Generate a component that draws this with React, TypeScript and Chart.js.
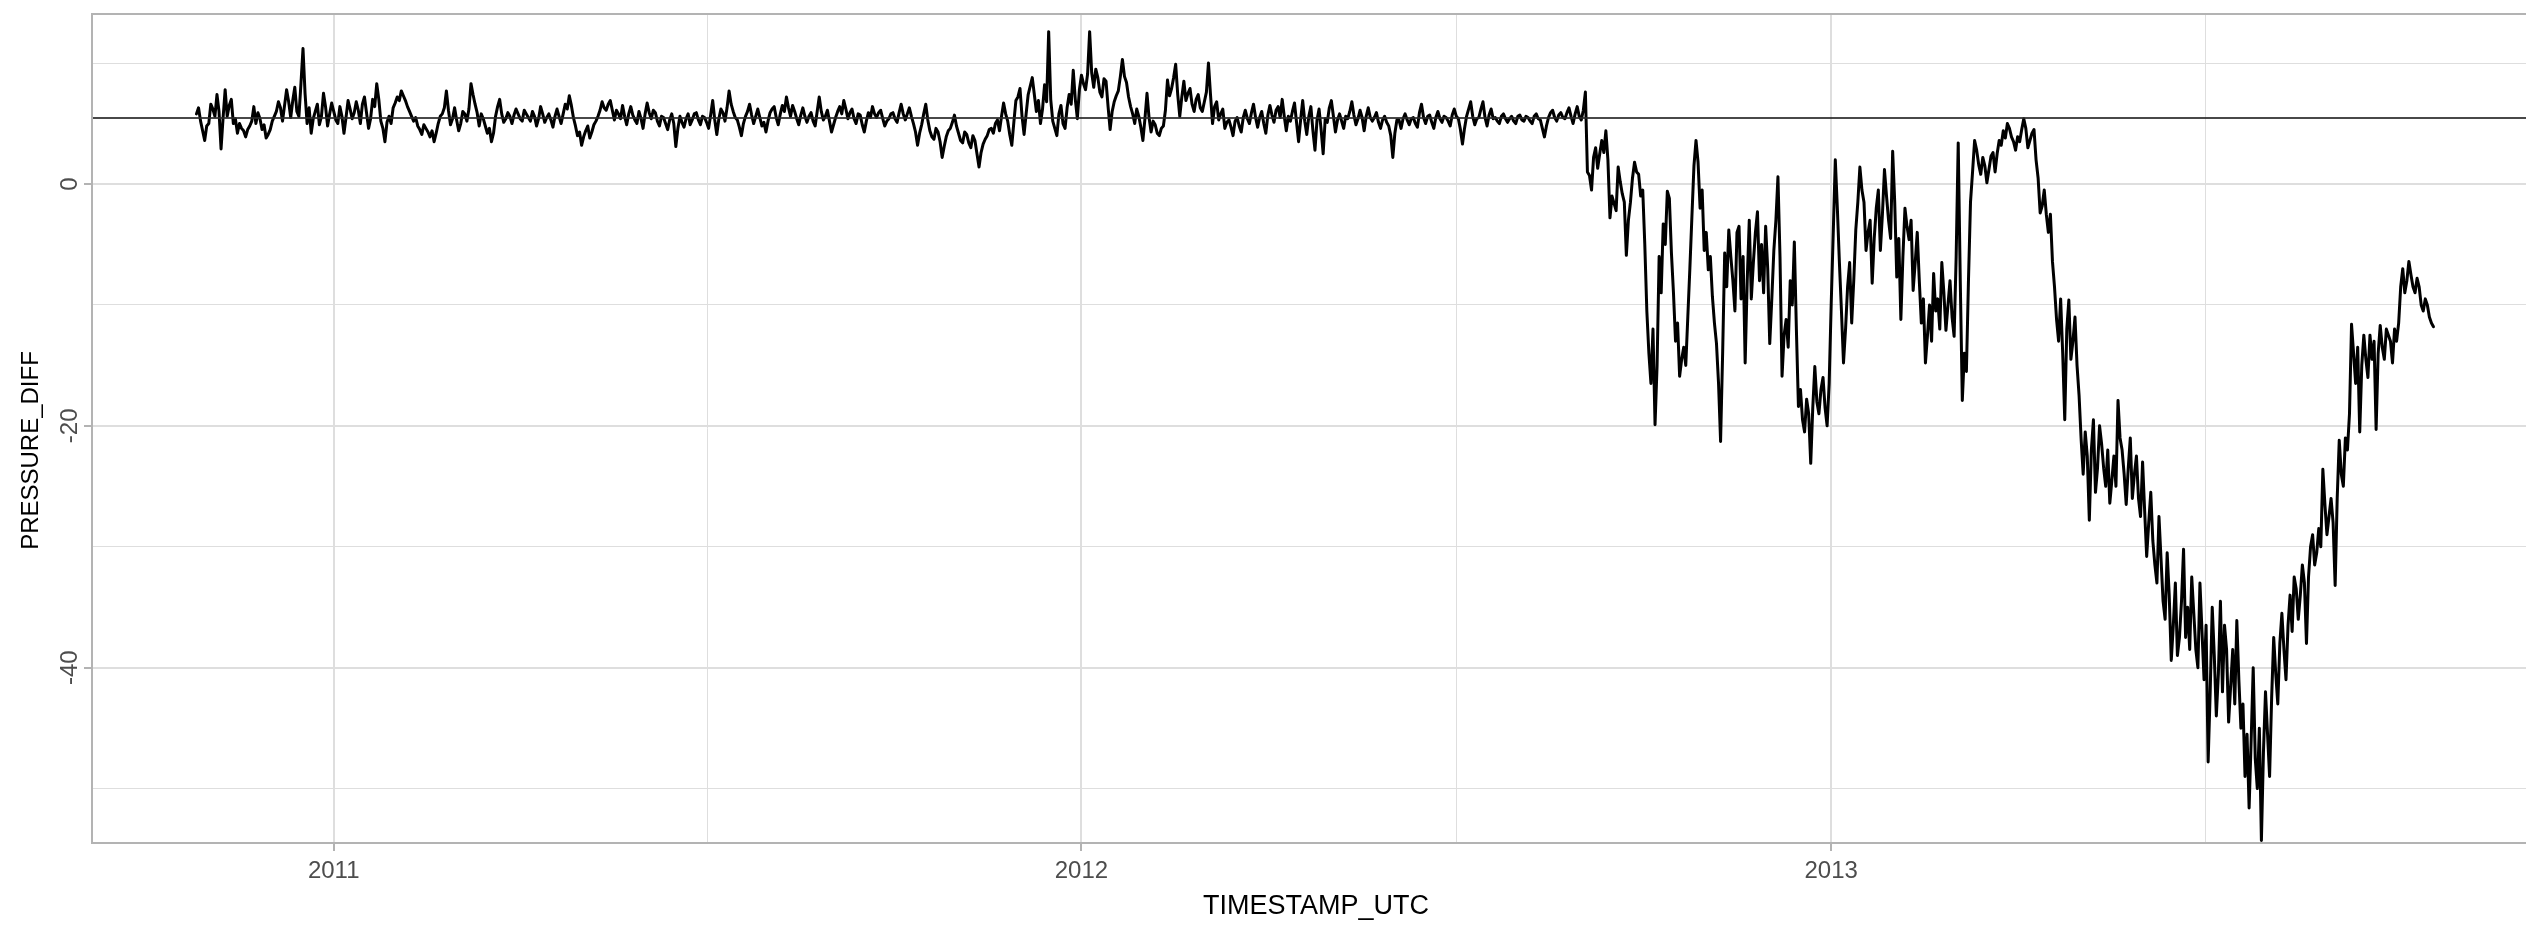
import React, { useEffect, useRef } from 'react';
import { Chart, registerables } from 'chart.js';

Chart.register(...registerables);

// ---- data: daily readings starting at seriesStart ----
// "...Even" arrays hold the readings on even days (0, 2, 4, ...),
// "...Odd" arrays hold the readings on the odd days in between.
const seriesStart = '2010-10-26';
const stepDays = 1;

const values2010to2011Even = [
  5.8, 5.2, 3.6, 5.0, 6.2, 7.4, 2.9, 7.8, 6.5, 5.0,
  4.2, 4.6, 3.9, 4.8, 6.4, 5.9, 4.5, 3.8, 4.5, 5.6,
  6.8, 5.2, 7.8, 5.5, 8.0, 5.6, 11.2, 5.0, 4.2, 6.0,
  4.9, 7.5, 4.8, 6.7, 5.3, 6.4, 4.2, 6.9, 5.4, 6.8,
  5.0, 7.2, 4.6, 7.0, 8.3, 5.2, 3.5, 5.6, 6.3, 7.2,
  7.7, 6.9, 6.0, 5.2, 4.8, 4.1, 4.6, 3.9, 3.5, 5.0,
  5.8, 7.7, 4.9, 6.3, 4.4, 6.0, 5.2, 8.3, 6.6, 4.8,
  5.4, 4.2, 3.5, 5.6, 7.0, 5.1, 5.9, 5.0, 6.2, 5.4,
  6.1, 5.5, 6.0, 4.8, 6.4, 5.1, 5.8, 4.7, 6.2, 5.0,
  6.6, 7.3, 5.5, 4.0, 3.2, 4.4, 3.8, 4.9, 5.6, 6.8,
  6.1, 6.9, 5.3, 5.8,
];
const values2010to2011Odd = [
  6.3, 4.4, 4.8, 6.6, 5.6, 6.0, 5.5, 5.6, 7.0, 5.4,
  5.0, 4.4, 4.5, 5.2, 5.0, 5.4, 4.9, 4.1, 5.2, 6.0,
  6.3, 6.5, 6.8, 6.9, 6.0, 8.3, 7.5, 6.3, 5.4, 6.6,
  5.6, 6.4, 5.8, 6.0, 5.0, 5.6, 5.5, 6.2, 5.9, 6.1,
  6.6, 5.9, 5.4, 6.4, 7.0, 4.6, 5.1, 5.0, 6.7, 6.9,
  7.3, 6.4, 5.6, 5.5, 4.5, 4.9, 4.3, 4.4, 4.2, 5.6,
  6.3, 6.1, 5.4, 5.3, 5.0, 5.8, 6.2, 7.4, 5.9, 5.8,
  4.8, 4.6, 4.2, 6.4, 5.8, 5.4, 5.6, 5.7, 5.8, 5.2,
  5.8, 5.2, 5.6, 5.4, 5.8, 5.5, 5.3, 5.6, 5.6, 5.8,
  6.2, 6.5, 4.8, 4.3, 3.9, 4.8, 4.3, 5.2, 6.1, 6.3,
  6.6, 6.1, 6.1, 5.4,
];

const values2011H2Even = [
  6.5, 4.9, 6.4, 5.3, 6.0, 4.6, 6.7, 5.4, 5.9, 4.8,
  5.5, 4.5, 5.8, 3.1, 5.6, 4.7, 5.8, 5.3, 5.9, 4.9,
  5.5, 4.6, 6.9, 4.1, 6.2, 5.2, 7.7, 6.0, 5.3, 4.0,
  5.6, 6.6, 5.0, 6.2, 4.8, 4.3, 5.9, 6.4, 4.9, 6.5,
  7.2, 5.6, 6.0, 4.9, 6.3, 5.1, 5.9, 4.8, 7.2, 5.3,
  6.1, 4.3, 5.5, 6.4, 6.9, 5.4, 6.2, 5.0, 5.7, 4.3,
  5.9, 6.4, 5.5, 6.1, 4.8, 5.4, 5.9, 5.1, 6.6, 5.3,
  6.3, 5.0, 3.2, 4.9, 6.6, 4.4, 3.7, 4.3, 2.2, 3.9,
  4.6, 5.7, 4.2, 3.4, 4.1, 3.0, 3.6, 1.4, 3.3, 4.0,
  4.6, 5.0, 4.4, 6.7, 5.2, 3.2, 6.9, 7.9, 4.1, 7.4,
  8.8, 6.0,
];
const values2011H2Odd = [
  5.6, 5.8, 5.7, 5.0, 5.4, 5.8, 5.9, 6.1, 5.2, 5.6,
  5.0, 5.3, 5.0, 4.6, 5.1, 5.4, 4.9, 5.8, 5.3, 5.6,
  5.1, 5.7, 5.3, 5.4, 5.9, 6.3, 6.6, 5.5, 4.7, 5.0,
  6.0, 5.7, 5.6, 5.5, 5.1, 5.2, 6.2, 5.5, 5.8, 6.0,
  6.3, 6.5, 5.4, 5.7, 5.6, 5.6, 5.2, 6.0, 6.0, 5.6,
  5.2, 4.9, 6.0, 5.8, 6.2, 5.9, 5.4, 5.8, 4.9, 5.2,
  5.5, 5.8, 5.9, 5.4, 5.2, 5.8, 5.4, 5.9, 5.8, 5.8,
  5.6, 4.3, 4.2, 5.8, 5.3, 3.9, 4.6, 3.5, 3.1, 4.4,
  5.1, 4.8, 3.6, 4.3, 3.4, 4.0, 2.5, 2.6, 3.7, 4.5,
  4.2, 5.3, 5.6, 5.8, 4.1, 5.1, 7.2, 5.6, 5.8, 8.1,
  7.4, 6.9,
];

const values2012Even = [
  5.0, 8.2, 12.6, 5.2, 4.0, 6.5, 4.6, 7.4, 9.4, 5.4,
  9.0, 7.8, 12.6, 8.0, 8.8, 7.2, 8.5, 4.5, 6.8, 7.7,
  10.3, 8.4, 6.4, 5.0, 5.6, 3.6, 7.5, 4.3, 4.9, 4.0,
  4.8, 8.6, 7.9, 9.9, 5.6, 8.5, 7.5, 6.6, 7.0, 6.3,
  6.8, 10.0, 5.0, 6.8, 5.8, 4.6, 5.3, 4.0, 5.5, 4.3,
  6.1, 5.0, 6.6, 4.7, 6.0, 4.2, 6.5, 5.1, 6.4, 7.0,
  4.4, 5.2, 6.7, 3.5, 6.9, 4.1, 6.4, 2.8, 6.2, 2.5,
  5.1, 6.9, 4.3, 5.8, 4.6, 5.4, 6.8, 4.9, 6.1, 4.4,
  6.3, 5.2, 5.9, 4.6, 5.6, 4.8, 2.2, 5.3, 4.6, 5.8,
  4.9, 5.5, 4.7, 6.6, 5.0, 5.7, 4.6, 6.0, 5.1, 5.5,
  4.8, 6.2, 5.4, 3.3, 5.6, 6.8, 4.9, 5.5, 6.8, 4.8,
  6.2, 5.5, 5.0, 5.8, 5.1, 5.6, 5.0, 5.7, 5.2, 5.5,
  5.0, 5.8, 5.3, 3.9, 5.5, 6.1, 5.2, 5.9, 5.4, 6.3,
  5.0, 6.4, 5.3, 7.6,
];
const values2012Odd = [
  6.2, 6.8, 7.0, 4.6, 5.8, 5.0, 6.3, 6.6, 7.0, 7.8,
  8.3, 9.1, 9.2, 9.5, 7.6, 8.7, 6.4, 6.0, 7.3, 8.9,
  8.9, 7.2, 5.8, 6.2, 4.7, 5.4, 5.5, 5.2, 4.2, 4.6,
  6.1, 7.3, 8.8, 7.4, 7.2, 6.9, 7.9, 6.0, 7.4, 6.0,
  7.6, 7.4, 6.4, 5.3, 6.2, 5.1, 4.7, 5.2, 4.8, 5.5,
  5.4, 5.9, 5.5, 5.5, 5.0, 5.7, 5.7, 6.1, 5.5, 5.6,
  5.6, 6.0, 5.1, 5.3, 5.2, 5.6, 4.4, 5.3, 4.5, 5.4,
  6.3, 5.6, 5.3, 5.2, 5.6, 6.0, 5.7, 5.4, 5.5, 5.6,
  5.5, 5.5, 5.1, 5.3, 5.1, 4.0, 4.2, 5.3, 5.4, 5.3,
  5.4, 5.0, 5.9, 5.5, 5.6, 5.1, 5.5, 5.4, 5.6, 5.2,
  5.7, 5.6, 4.5, 4.6, 6.2, 5.6, 5.4, 6.2, 5.5, 5.7,
  5.4, 5.2, 5.6, 5.4, 5.4, 5.2, 5.6, 5.3, 5.6, 5.2,
  5.6, 5.4, 4.6, 4.8, 5.9, 5.5, 5.7, 5.5, 5.9, 5.6,
  5.8, 5.6, 6.1, 1.0,
];

const valuesAfterDropEven = [
  0.7, 2.2, 1.3, 3.6, 4.4, -2.8, -1.6, 1.4, -0.8, -5.9,
  -1.5, 1.8, 0.8, -0.5, -10.5, -16.5, -19.9, -6.0, -3.3, -0.6,
  -5.7, -13.0, -15.9, -13.5, -11.0, -2.7, 3.6, -2.0, -5.5, -7.1,
  -9.3, -13.2, -21.3, -5.7, -3.8, -8.0, -4.0, -9.5, -14.8, -3.0,
  -6.5, -2.3, -5.0, -3.5, -13.2, -5.5, 0.6, -15.9, -11.2, -8.0,
  -4.8, -18.4, -19.5, -17.8, -23.1, -15.1, -19.0, -16.0, -20.0, -9.9,
  2.0, -6.5, -14.8, -8.5, -11.5, -3.8, 1.4, -1.5, -4.0, -8.2,
  -2.0, -5.5, 1.2, -3.0, 2.7, -7.7, -11.2, -2.0, -4.6, -8.8,
  -4.0, -11.5, -14.8, -10.0, -7.4, -9.5, -6.5, -12.1, -8.0, -12.6,
  3.4, -17.9, -15.5, -1.5, 3.6, 1.6, 2.2, 0.1, 2.3, 1.0,
  3.6, 4.4, 5.0, 3.9, 2.8, 3.5, 5.4, 3.0, 4.2, 2.0,
  -2.4, -0.5,
];
const valuesAfterDropOdd = [
  -0.5, 3.0, 2.5, 2.6, 2.0, -1.0, -2.2, 0.2, -1.5, -3.0,
  0.5, 1.0, -1.0, -5.0, -14.0, -12.0, -15.0, -9.0, -5.0, -1.2,
  -9.0, -11.5, -14.5, -15.0, -7.0, 1.5, 1.8, -0.5, -4.0, -6.0,
  -11.5, -16.5, -14.0, -8.5, -6.0, -10.5, -3.5, -6.0, -8.0, -9.5,
  -4.0, -8.0, -9.0, -7.0, -9.5, -3.0, -6.0, -12.5, -13.5, -10.0,
  -12.0, -17.0, -20.5, -19.0, -18.5, -18.0, -17.0, -18.5, -16.5, -4.0,
  -2.0, -10.5, -12.0, -6.5, -8.0, -1.5, -0.5, -5.5, -3.0, -4.5,
  -0.5, -2.5, -1.0, -4.5, -1.5, -4.5, -6.0, -3.5, -3.0, -6.5,
  -8.0, -9.5, -12.5, -13.0, -10.5, -12.0, -9.0, -10.0, -11.0, -6.0,
  -8.0, -14.0, -8.0, 1.0, 2.8, 0.8, 1.5, 1.2, 2.6, 2.5,
  3.2, 3.8, 4.6, 3.5, 3.9, 4.5, 4.6, 3.6, 4.5, 0.5,
  -1.8, -2.5,
];

const values2013DipEven = [
  -4.0, -6.4, -11.2, -9.5, -19.5, -9.6, -13.0, -15.0, -21.1, -20.5,
  -27.8, -19.5, -23.5, -21.5, -25.0, -26.4, -22.5, -17.9, -22.0, -26.5,
  -21.0, -24.0, -26.0, -23.0, -30.8, -25.5, -31.5, -27.5, -34.5, -30.5,
  -39.4, -33.0, -37.5, -30.2, -35.0, -32.5, -38.5, -33.0, -41.0, -47.8,
  -35.0, -44.0, -34.5, -36.5, -44.5, -38.5, -36.1, -45.0, -49.0, -51.6,
  -40.0, -50.0, -54.3, -42.0, -49.0, -37.5, -43.0, -35.5, -41.0, -34.0,
  -32.5, -36.0, -31.5, -38.0, -30.0, -31.5, -28.5, -23.6, -29.0, -26.0,
  -33.2, -21.2, -25.0, -22.0, -11.6, -16.5, -20.5, -12.5, -16.0, -14.5,
  -20.3, -11.7, -14.5, -12.5, -14.8, -13.0, -8.5, -9.0, -6.4, -8.5,
  -7.8, -10.0, -9.5, -11.0, -11.8,
];
const values2013DipOdd = [
  -2.5, -8.5, -13.0, -14.0, -12.0, -14.5, -11.0, -17.5, -24.0, -22.5,
  -22.0, -25.5, -20.0, -23.5, -22.0, -24.5, -25.0, -21.0, -24.0, -23.5,
  -26.0, -22.5, -27.5, -27.0, -28.0, -29.5, -33.0, -31.0, -36.0, -34.0,
  -36.5, -39.0, -34.5, -37.5, -38.5, -35.5, -40.0, -37.0, -36.5, -42.0,
  -39.0, -40.5, -42.0, -38.5, -41.5, -43.0, -41.0, -43.0, -45.5, -46.0,
  -47.5, -45.0, -47.0, -45.5, -42.5, -40.5, -38.0, -38.5, -36.5, -37.0,
  -33.5, -34.0, -33.0, -32.5, -29.0, -30.5, -30.0, -26.5, -27.5, -28.0,
  -26.0, -24.0, -21.0, -19.0, -14.0, -13.5, -15.0, -14.5, -12.5, -13.0,
  -14.0, -13.5, -12.0, -13.0, -12.0, -11.5, -7.0, -8.0, -7.5, -9.0,
  -8.5, -10.5, -10.0, -11.5,
];

const referenceLevel = 5.45;

// ---- axes ----
const xRange = ['2010-09-05', '2013-12-13'];
const yRange = [-54.5, 14.06];
const xMajorTicks = ['2011-01-01', '2012-01-01', '2013-01-01'];
const xMinorTicks = ['2011-07-02T12:00:00Z', '2012-07-02T00:00:00Z', '2013-07-02T12:00:00Z'];
const yMajorTicks = [-40, -20, 0];
const yMinorTicks = [-50, -30, -10, 10];
const xTitle = 'TIMESTAMP_UTC';
const yTitle = 'PRESSURE_DIFF';

const FONT = "'Liberation Sans', Arial, sans-serif";
const DAY = 86400000;

export default function App() {
  const ref = useRef<HTMLCanvasElement | null>(null);

  useEffect(() => {
    document.body.style.margin = '0';
    document.body.style.overflow = 'hidden';
    const canvas = ref.current;
    if (!canvas) return;

    const t0 = Date.parse(seriesStart);
    const even = [
      ...values2010to2011Even,
      ...values2011H2Even,
      ...values2012Even,
      ...valuesAfterDropEven,
      ...values2013DipEven,
    ];
    const odd = [
      ...values2010to2011Odd,
      ...values2011H2Odd,
      ...values2012Odd,
      ...valuesAfterDropOdd,
      ...values2013DipOdd,
    ];
    const ordered: number[] = [];
    even.forEach((v, k) => {
      ordered.push(v);
      if (k < odd.length) ordered.push(odd[k]);
    });
    const points = ordered.map((v, j) => ({ x: t0 + j * stepDays * DAY, y: v }));
    const xMin = Date.parse(xRange[0]);
    const xMax = Date.parse(xRange[1]);
    const majorX = xMajorTicks.map((d) => Date.parse(d));
    const minorX = xMinorTicks.map((d) => Date.parse(d));
    const isMajorX = (v: number) => majorX.includes(v);
    const isMajorY = (v: number) => yMajorTicks.includes(v);

    const panelPlugin = {
      id: 'panelDecor',
      afterDatasetsDraw(chart: any) {
        const { ctx, chartArea: a } = chart;
        ctx.save();
        ctx.strokeStyle = '#B3B3B3';
        ctx.lineWidth = 2;
        ctx.strokeRect(a.left, a.top, a.right - a.left, a.bottom - a.top);
        ctx.restore();
      },
      afterDraw(chart: any) {
        const { ctx, chartArea: a } = chart;
        const ys = chart.scales.y;
        ctx.save();
        ctx.fillStyle = '#4D4D4D';
        ctx.font = `24px ${FONT}`;
        ctx.textAlign = 'center';
        ctx.textBaseline = 'alphabetic';
        for (const v of yMajorTicks) {
          const py = ys.getPixelForValue(v);
          ctx.save();
          ctx.translate(77, py);
          ctx.rotate(-Math.PI / 2);
          ctx.fillText(String(v), 0, 0);
          ctx.restore();
        }
        ctx.fillStyle = '#000000';
        ctx.font = `24px ${FONT}`;
        ctx.save();
        ctx.translate(38, (a.top + a.bottom) / 2 + 22);
        ctx.rotate(-Math.PI / 2);
        ctx.fillText(yTitle, 0, 0);
        ctx.restore();
        ctx.restore();
      },
    };

    const chart = new Chart(canvas, {
      type: 'line',
      data: {
        datasets: [
          {
            data: [
              { x: xMin, y: referenceLevel },
              { x: xMax, y: referenceLevel },
            ],
            borderColor: 'rgba(40,40,40,0.85)',
            borderWidth: 2,
            pointRadius: 0,
          },
          {
            data: points,
            borderColor: '#000000',
            borderWidth: 3,
            pointRadius: 0,
            tension: 0,
            borderJoinStyle: 'round',
            borderCapStyle: 'round',
          },
        ],
      },
      options: {
        animation: false,
        responsive: true,
        maintainAspectRatio: false,
        parsing: false,
        normalized: true,
        layout: { padding: { top: 14, right: 2, left: 0, bottom: 0 } },
        plugins: {
          legend: { display: false },
          tooltip: { enabled: false },
        },
        scales: {
          x: {
            type: 'linear',
            min: xMin,
            max: xMax,
            afterFit(s: any) {
              s.height = 83;
            },
            afterBuildTicks(s: any) {
              s.ticks = [...majorX, ...minorX].sort((p, q) => p - q).map((value) => ({ value }));
            },
            ticks: {
              autoSkip: false,
              maxRotation: 0,
              minRotation: 0,
              padding: 6,
              color: '#4D4D4D',
              font: { family: FONT, size: 24 },
              callback(value: any) {
                const d = new Date(Number(value));
                return isMajorX(Number(value)) ? String(d.getUTCFullYear()) : '';
              },
            },
            grid: {
              color: '#DEDEDE',
              lineWidth: (c: any) => (c.tick && isMajorX(c.tick.value) ? 2 : 1),
              tickColor: (c: any) => (c.tick && isMajorX(c.tick.value) ? '#B3B3B3' : 'rgba(0,0,0,0)'),
              tickWidth: 2,
              tickLength: 8,
            },
            border: { display: false },
            title: {
              display: true,
              text: xTitle,
              color: '#000000',
              font: { family: FONT, size: 27 },
              padding: { top: 0, bottom: 3 },
            },
          },
          y: {
            type: 'linear',
            min: yRange[0],
            max: yRange[1],
            afterFit(s: any) {
              s.width = 92;
            },
            afterBuildTicks(s: any) {
              s.ticks = [...yMinorTicks, ...yMajorTicks].sort((p, q) => p - q).map((value) => ({ value }));
            },
            ticks: { display: false },
            grid: {
              color: '#DEDEDE',
              lineWidth: (c: any) => (c.tick && isMajorY(c.tick.value) ? 2 : 1),
              tickColor: (c: any) => (c.tick && isMajorY(c.tick.value) ? '#B3B3B3' : 'rgba(0,0,0,0)'),
              tickWidth: 2,
              tickLength: 8,
            },
            border: { display: false },
          },
        },
      },
      plugins: [panelPlugin],
    } as any);

    return () => chart.destroy();
  }, []);

  return (
    <div
      style={{
        position: 'fixed',
        left: 0,
        top: 0,
        width: '2542px',
        height: '926px',
        background: '#ffffff',
      }}
    >
      <canvas ref={ref} />
    </div>
  );
}
